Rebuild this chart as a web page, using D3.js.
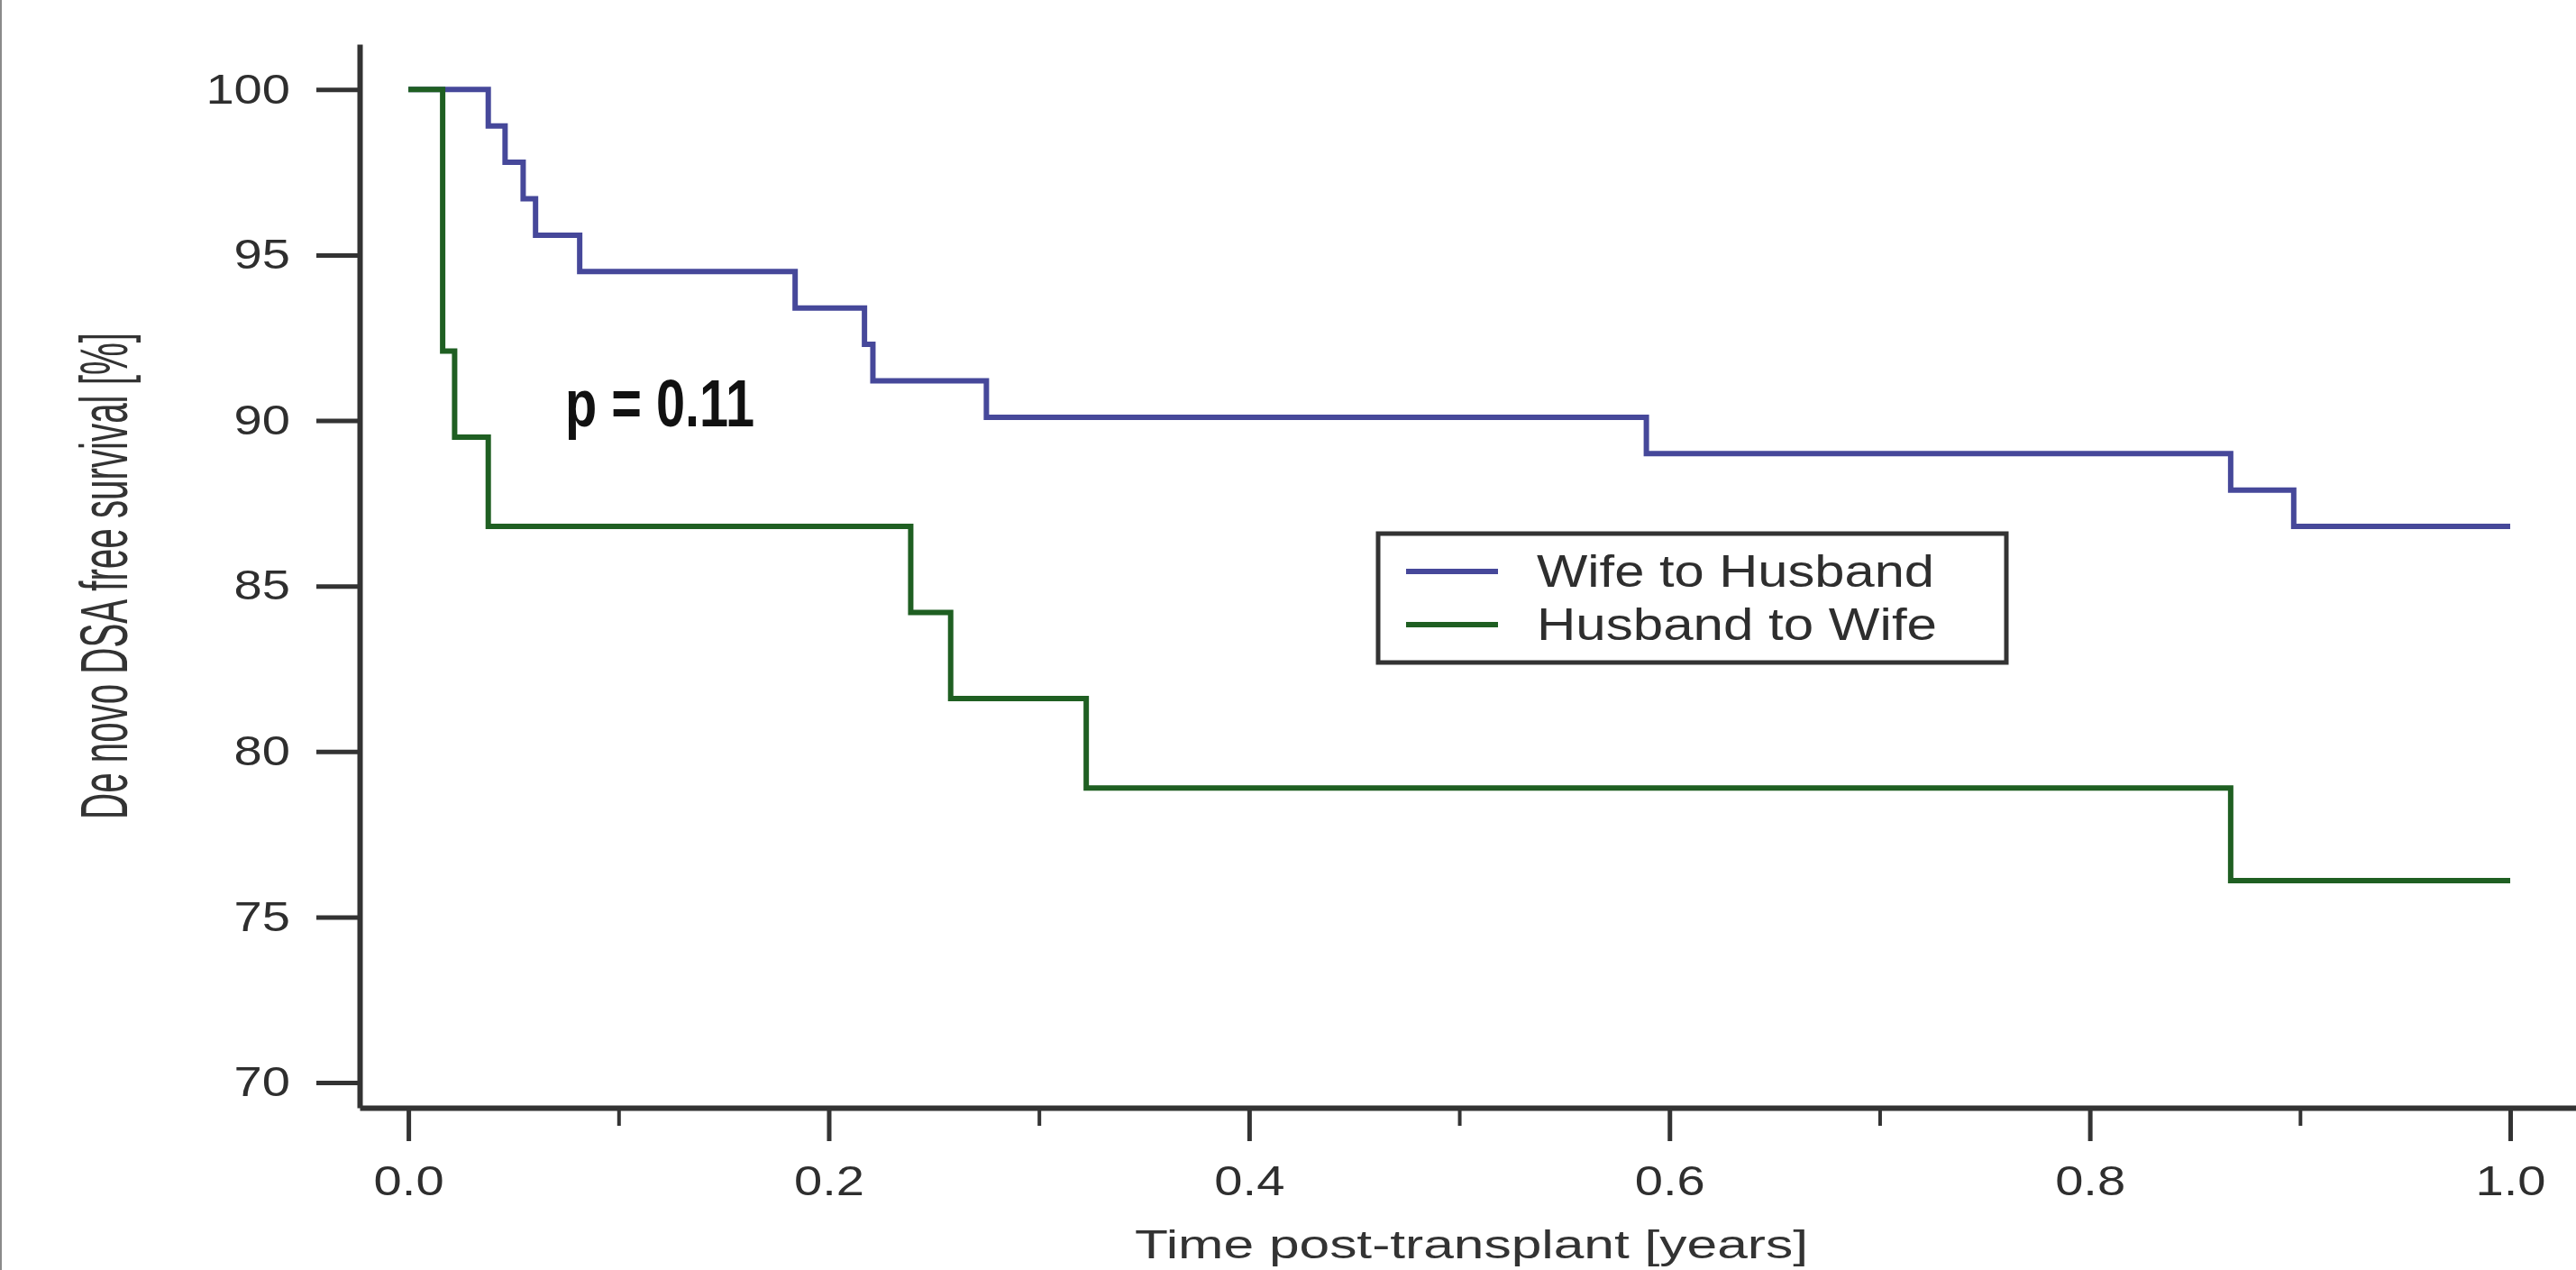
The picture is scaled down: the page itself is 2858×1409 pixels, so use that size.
<!DOCTYPE html>
<html>
<head>
<meta charset="utf-8">
<style>
  body { margin: 0; background: #fff; }
  svg { display: block; }
</style>
</head>
<body>
<svg width="2858" height="1409"></svg>
<script src="https://d3js.org/d3.v7.min.js"></script>
<script>

    // Kaplan-Meier steps (time in years, survival in %)
    var wifeTimes = [0, 0.038, 0.046, 0.0546, 0.0605, 0.0815, 0.184, 0.217, 0.221, 0.275, 0.589, 0.867, 0.897, 1.0];
    var wifeSurv  = [100, 98.9, 97.8, 96.7, 95.6, 94.5, 93.4, 92.3, 91.2, 90.1, 89.0, 87.9, 86.8, 86.8];

    var husbandTimes = [0, 0.0163, 0.022, 0.038, 0.239, 0.258, 0.3225, 0.867, 1.0];
    var husbandSurv  = [100, 92.1, 89.5, 86.8, 84.2, 81.6, 78.9, 76.1, 76.1];

    var seriesNames = ["Wife to Husband", "Husband to Wife"];
    var seriesColors = ["#46489a", "#1f5f22"];

    var yTicks = [70, 75, 80, 85, 90, 95, 100];
    var xMajorTicks = [0, 0.2, 0.4, 0.6, 0.8, 1.0];
    var xMinorTicks = [0.1, 0.3, 0.5, 0.7, 0.9];
    var pLabel = "p = 0.11";

    var svg = d3.select("svg");

    // left edge rule of the scanned figure
    svg.append("line")
            .attr("x1", 1).attr("x2", 1)
            .attr("y1", 0).attr("y2", 1409)
            .attr("stroke", "#8a8a8a")
            .attr("stroke-width", 2);

    var x = d3.scaleLinear()
            .domain([-0.0232, 1.0313])
            .range([399, 2858]);

    var y = d3.scaleLinear()
            .domain([69.24, 101.37])
            .range([1229, 49]);

    var line = d3.line()
            .curve(d3.curveStepAfter)
            .x(function(d) { return x(d[0]); })
            .y(function(d) { return y(d[1]); });

    // x axis: major ticks with labels, minor ticks without
    var xAxisG = svg.append("g")
            .attr("transform", "translate(0,1229)")
            .call(d3.axisBottom(x)
                    .tickValues(xMajorTicks)
                    .tickSize(37)
                    .tickSizeOuter(0)
                    .tickPadding(27)
                    .tickFormat(d3.format(".1f")));

    svg.append("g")
            .attr("class", "minor")
            .attr("transform", "translate(0,1229)")
            .call(d3.axisBottom(x)
                    .tickValues(xMinorTicks)
                    .tickSize(20)
                    .tickFormat(""))
            .select(".domain").remove();

    var yAxisG = svg.append("g")
            .attr("transform", "translate(399,0)")
            .call(d3.axisLeft(y)
                    .tickValues(yTicks)
                    .tickSize(48)
                    .tickSizeOuter(0));

    svg.selectAll(".domain")
            .attr("stroke", "#333")
            .attr("stroke-width", 6);

    svg.selectAll(".tick line")
            .attr("stroke", "#333")
            .attr("stroke-width", 5);

    svg.selectAll(".minor .tick line")
            .attr("stroke-width", 4);

    svg.selectAll(".tick text")
            .attr("fill", "#2e2e2e")
            .attr("font-family", "'Liberation Sans', Arial, sans-serif")
            .attr("font-size", 46);

    xAxisG.selectAll(".tick text")
            .attr("transform", "scale(1.22,1)");

    yAxisG.selectAll(".tick text")
            .attr("x", -77 / 1.22)
            .attr("transform", "scale(1.22,1)");

    // axis titles (y title is squeezed along its length with a scale)
    var yTitle = svg.append("text")
            .attr("text-anchor", "middle")
            .attr("font-family", "'Liberation Sans', Arial, sans-serif")
            .attr("font-size", 74)
            .attr("fill", "#333")
            .text("De novo DSA free survival [%]");

    var squeeze = 540 / yTitle.node().getComputedTextLength();
    yTitle.attr("transform", "translate(141,639) rotate(-90) scale(" + squeeze + ",1)");

    svg.append("text")
            .attr("x", 1259)
            .attr("y", 1396)
            .attr("font-family", "'Liberation Sans', Arial, sans-serif")
            .attr("font-size", 45)
            .attr("fill", "#333")
            .attr("textLength", 747)
            .attr("lengthAdjust", "spacingAndGlyphs")
            .text("Time post-transplant [years]");

    // survival curves
    var series = [d3.zip(wifeTimes, wifeSurv), d3.zip(husbandTimes, husbandSurv)];

    svg.selectAll(".km")
            .data(series)
            .enter().append("path")
            .attr("class", "km")
            .attr("fill", "none")
            .attr("stroke", function(d, i) { return seriesColors[i]; })
            .attr("stroke-width", 6)
            .attr("stroke-linejoin", "miter")
            .attr("d", line);

    svg.append("text")
            .attr("x", 627)
            .attr("y", 473)
            .attr("font-family", "'Liberation Sans', Arial, sans-serif")
            .attr("font-weight", "bold")
            .attr("font-size", 74)
            .attr("fill", "#111")
            .attr("textLength", 210)
            .attr("lengthAdjust", "spacingAndGlyphs")
            .text(pLabel);

    // legend
    var legend = svg.append("g")
            .attr("transform", "translate(1529,592)");

    legend.append("rect")
            .attr("width", 697)
            .attr("height", 143)
            .attr("fill", "#fff")
            .attr("stroke", "#333")
            .attr("stroke-width", 5);

    var legendWidths = [441, 444];

    var item = legend.selectAll(".item")
            .data(seriesNames)
            .enter().append("g")
            .attr("class", "item")
            .attr("transform", function(d, i) { return "translate(0," + (42 + i * 59) + ")"; });

    item.append("line")
            .attr("x1", 31).attr("x2", 133)
            .attr("stroke", function(d, i) { return seriesColors[i]; })
            .attr("stroke-width", 6);

    item.append("text")
            .attr("x", 176)
            .attr("y", 17)
            .attr("font-family", "'Liberation Sans', Arial, sans-serif")
            .attr("font-size", 50)
            .attr("fill", "#2e2e2e")
            .attr("textLength", function(d, i) { return legendWidths[i]; })
            .attr("lengthAdjust", "spacingAndGlyphs")
            .text(function(d) { return d; });

</script>
</body>
</html>
